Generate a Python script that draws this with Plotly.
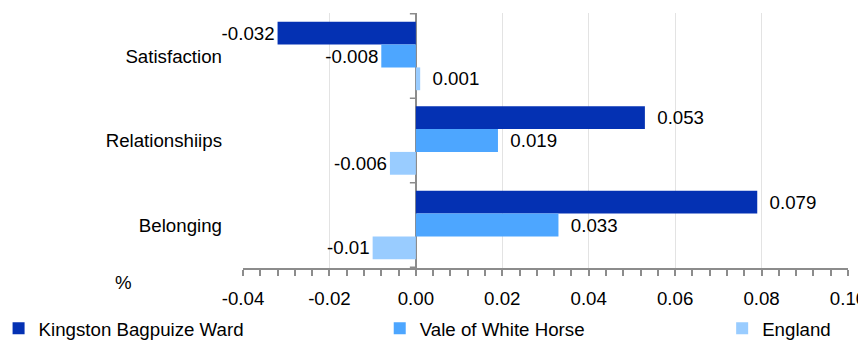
import plotly.graph_objects as go

categories = ["Satisfaction", "Relationshiips", "Belonging"]
series_names = ["Kingston Bagpuize Ward", "Vale of White Horse", "England"]
kingston = [-0.032, 0.053, 0.079]
vale = [-0.008, 0.019, 0.033]
england = [0.001, -0.006, -0.01]
label_kingston = ["-0.032", "0.053", "0.079"]
label_vale = ["-0.008", "0.019", "0.033"]
label_england = ["0.001", "-0.006", "-0.01"]
x_ticks = [-0.04, -0.02, 0.0, 0.02, 0.04, 0.06, 0.08, 0.10]
x_ticklabels = ["-0.04", "-0.02", "0.00", "0.02", "0.04", "0.06", "0.08", "0.10"]

colors = ["#0431B3", "#4DA6FF", "#99CCFF"]
FONT = "Liberation Sans, Arial, sans-serif"
FS = 18.7

def pad(labels, vals):
    return [("\u2002" + l) if v > 0 else l for l, v in zip(labels, vals)]

fig = go.Figure()
all_vals = [kingston, vale, england]
all_labels = [label_kingston, label_vale, label_england]
legends = ["legend", "legend2", "legend3"]
for name, vals, labs, col, lg in zip(series_names, all_vals, all_labels, colors, legends):
    fig.add_trace(go.Bar(
        y=categories, x=vals, name=name, orientation="h",
        marker=dict(color=col, line=dict(width=0)),
        text=pad(labs, vals), textposition="outside", cliponaxis=False,
        constraintext="none",
        textfont=dict(family=FONT, size=FS, color="#000000"),
        legend=lg, hoverinfo="skip",
    ))

LY = -0.238
fig.update_layout(
    width=866, height=340,
    margin=dict(l=235, r=26, t=5, b=80, autoexpand=False),
    paper_bgcolor="white", plot_bgcolor="white",
    barmode="group", bargap=0.19, bargroupgap=0,
    font=dict(family=FONT, size=FS, color="#000000"),
    xaxis=dict(
        range=[-0.04, 0.1000001], tickvals=x_ticks, ticktext=x_ticklabels,
        showgrid=True, gridcolor="#e3e3e3", gridwidth=1,
        zeroline=True, zerolinecolor="#8c8c8c", zerolinewidth=2,
        showline=True, linecolor="#8c8c8c", linewidth=2,
        ticks="outside", ticklen=6, tickcolor="#8c8c8c", tickwidth=1.5,
        minor=dict(dtick=0.004, tick0=-0.04, ticks="outside", ticklen=6,
                   tickcolor="#8c8c8c", tickwidth=1.5, showgrid=False),
        ticklabelstandoff=7, automargin=False, ticklabeloverflow="allow",
        tickfont=dict(family=FONT, size=FS),
        fixedrange=True,
    ),
    yaxis=dict(
        categoryorder="array", categoryarray=categories,
        autorange="reversed", showgrid=False, showline=False,
        ticks="", ticklabelstandoff=20, automargin=False,
        tickfont=dict(family=FONT, size=FS),
        fixedrange=True,
    ),
    legend=dict(orientation="h", x=-0.404, xanchor="left", y=LY, yanchor="middle",
                font=dict(family=FONT, size=FS), bgcolor="rgba(0,0,0,0)"),
    legend2=dict(orientation="h", x=0.226, xanchor="left", y=LY, yanchor="middle",
                 font=dict(family=FONT, size=FS), bgcolor="rgba(0,0,0,0)"),
    legend3=dict(orientation="h", x=0.792, xanchor="left", y=LY, yanchor="middle",
                 font=dict(family=FONT, size=FS), bgcolor="rgba(0,0,0,0)"),
    showlegend=True,
    annotations=[dict(text="%", xref="paper", yref="paper", x=-0.198, y=-0.057,
                      showarrow=False, font=dict(family=FONT, size=FS),
                      xanchor="center", yanchor="middle")],
)

# category boundary ticks on the zero line
for b in [-0.5, 0.5, 1.5, 2.5]:
    fig.add_shape(type="line", xref="x", yref="y", xsizemode="pixel", xanchor=0,
                  x0=-6, x1=0, y0=b, y1=b, line=dict(color="#8c8c8c", width=1.5))

fig.write_html("out.html")
